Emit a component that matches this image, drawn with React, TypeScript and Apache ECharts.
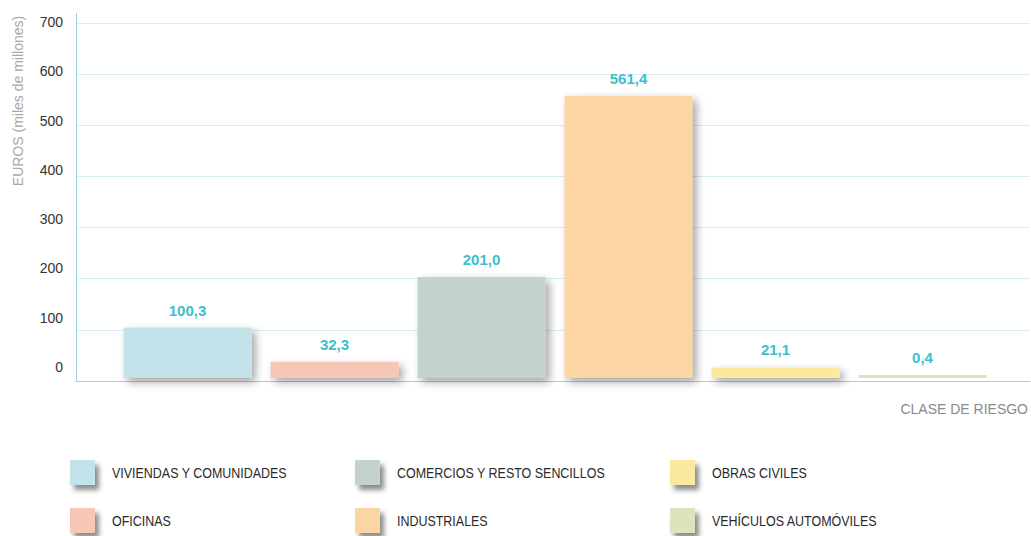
import React, { useEffect, useRef } from "react";
import * as echarts from "echarts";

const categories = [
  "VIVIENDAS Y COMUNIDADES",
  "OFICINAS",
  "COMERCIOS Y RESTO SENCILLOS",
  "INDUSTRIALES",
  "OBRAS CIVILES",
  "VEHÍCULOS AUTOMÓVILES",
];
const values = [100.3, 32.3, 201.0, 561.4, 21.1, 0.4];
const colors = ["#c3e3ea", "#f6c6b7", "#c3d3cb", "#fbd5a4", "#fbe9a0", "#dce4bc"];
const legendOrder = [0, 2, 4, 1, 3, 5]; // row-major placement of the 3x2 legend
const yTicks = [0, 100, 200, 300, 400, 500, 600, 700];

const yAxisName = "EUROS (miles de millones)";
const xAxisName = "CLASE DE RIESGO";

export default function App() {
  const ref = useRef<HTMLDivElement>(null);
  useEffect(() => {
    if (!ref.current) return;
    const chart = echarts.init(ref.current, undefined, { renderer: "svg" });
    const yMax = yTicks[yTicks.length - 1];
    const interval = yTicks[1] - yTicks[0];

    const legendGraphics: any[] = [];
    legendOrder.forEach((ci, pos) => {
      const col = pos % 3;
      const row = Math.floor(pos / 3);
      const colX = [70, 355, 670][col];
      const rowY = [460, 508][row];
      legendGraphics.push({
        type: "rect",
        x: colX,
        y: rowY,
        shape: { width: 25, height: 25 },
        style: {
          fill: colors[ci],
          shadowBlur: 5,
          shadowOffsetX: 4,
          shadowOffsetY: 5,
          shadowColor: "rgba(0,0,0,0.45)",
        },
      });
      legendGraphics.push({
        type: "text",
        x: colX + 42,
        y: rowY + 13,
        scaleX: 0.89,
        style: {
          text: categories[ci],
          fill: "#2a2a2a",
          font: "14px 'Liberation Sans', Arial, sans-serif",
          verticalAlign: "middle",
        },
      });
    });

    chart.setOption({
      animation: false,
      backgroundColor: "#fff",
      grid: [
        { left: 76, top: 23, width: 954, height: 358 },
        { left: 76, top: 22, width: 954, height: 345 },
        { left: 114, top: 26, width: 882, height: 352 },
      ],
      xAxis: [
        {
          gridIndex: 0,
          type: "value",
          min: 0,
          max: 1,
          axisLine: { show: true, lineStyle: { color: "#9fd3dc", width: 1 } },
          axisTick: { show: false },
          axisLabel: { show: false },
          splitLine: { show: false },
        },
        { gridIndex: 1, type: "value", show: false },
        { gridIndex: 2, type: "category", data: categories, show: false },
      ],
      yAxis: [
        {
          gridIndex: 0,
          type: "value",
          min: 0,
          max: yMax,
          interval,
          axisLine: { show: true, lineStyle: { color: "#9fd3dc", width: 1 } },
          axisTick: { show: false },
          axisLabel: { show: false },
          splitLine: { show: true, lineStyle: { color: "#d6eef2", width: 1 } },
        },
        {
          gridIndex: 1,
          type: "value",
          min: 0,
          max: yMax,
          interval,
          axisLine: { show: false },
          axisTick: { show: false },
          splitLine: { show: false },
          axisLabel: {
            show: true,
            margin: 13,
            color: "#333",
            fontSize: 14,
            fontFamily: "'Liberation Sans', Arial, sans-serif",
          },
        },
        { gridIndex: 2, type: "value", min: 0, max: yMax, show: false },
      ],
      series: [
        {
          type: "bar",
          xAxisIndex: 2,
          yAxisIndex: 2,
          barWidth: 128,
          barMinHeight: 3,
          data: values.map((v, i) => ({
            value: v,
            itemStyle: {
              color: colors[i],
              shadowBlur: i === 5 ? 0 : 8,
              shadowOffsetX: i === 5 ? 0 : 4,
              shadowOffsetY: i === 5 ? 0 : 4,
              shadowColor: i === 5 ? "rgba(0,0,0,0)" : "rgba(0,0,0,0.35)",
            },
          })),
          label: {
            show: true,
            position: "top",
            distance: 10,
            color: "#3bbfcd",
            fontWeight: "bold",
            fontSize: 15,
            fontFamily: "'Liberation Sans', Arial, sans-serif",
            formatter: (p: any) => Number(p.value).toFixed(1).replace(".", ","),
          },
        },
      ],
      graphic: [
        {
          type: "line",
          shape: { x1: 76.5, y1: 13, x2: 76.5, y2: 23 },
          style: { stroke: "#9fd3dc", lineWidth: 1 },
        },
        {
          type: "text",
          x: 18,
          y: 101,
          rotation: Math.PI / 2,
          style: {
            text: yAxisName,
            fill: "#a8a8a8",
            font: "14px 'Liberation Sans', Arial, sans-serif",
            align: "center",
            verticalAlign: "middle",
          },
        },
        {
          type: "text",
          x: 1028,
          y: 409,
          style: {
            text: xAxisName,
            fill: "#8a8a8a",
            font: "14px 'Liberation Sans', Arial, sans-serif",
            align: "right",
            verticalAlign: "middle",
          },
        },
        ...legendGraphics,
      ],
    });
    return () => chart.dispose();
  }, []);
  return (
    <div
      ref={ref}
      style={{ position: "fixed", left: 0, top: 0, width: 1031, height: 536 }}
    />
  );
}
